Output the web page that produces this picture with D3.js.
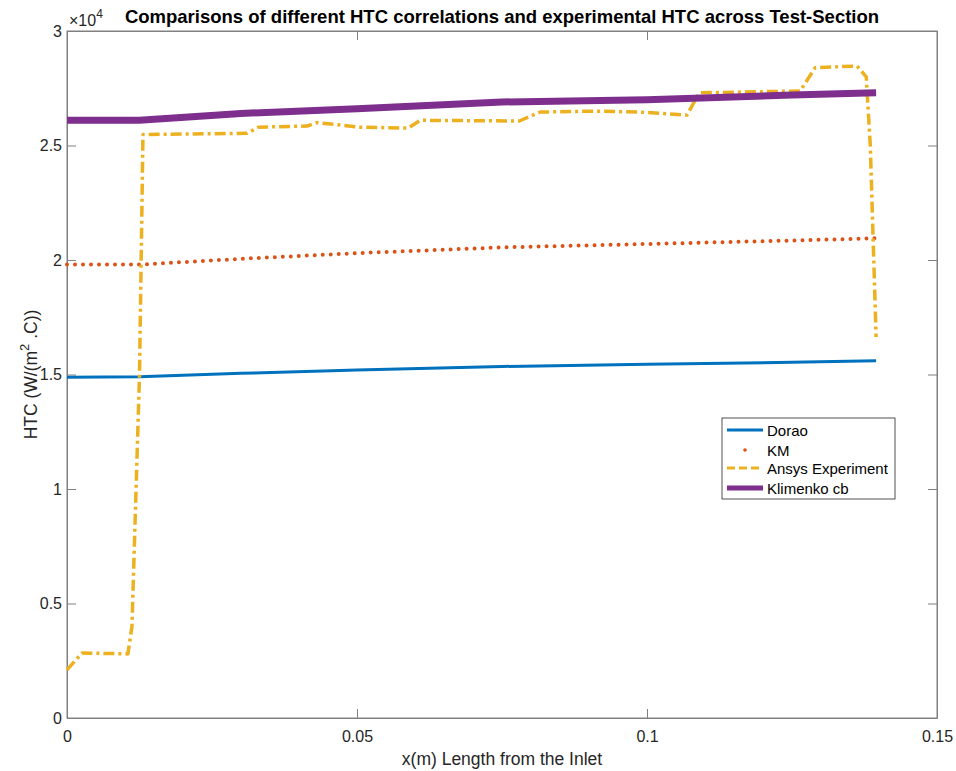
<!DOCTYPE html>
<html lang="en">
<head>
	<meta charset="UTF-8">
	<title>HTC comparison</title>
	<style>
		body { margin: 0; background: #fff; }
		text { font-family: "Liberation Sans", Arial, Helvetica, sans-serif; }
	</style>
</head>
<body>
	<svg width="956" height="771"></svg>
	<script src="https://d3js.org/d3.v7.min.js"></script>
	<script>
		// values in units of 1e4 W/(m^2.C)
		var doraoX = [0, 0.0125, 0.03, 0.05, 0.075, 0.1, 0.125, 0.1395];
		var doraoY = [1.488, 1.49, 1.505, 1.52, 1.535, 1.545, 1.553, 1.56];

		var kmX = [0, 0.0125, 0.03, 0.05, 0.075, 0.1, 0.125, 0.1395];
		var kmY = [1.98, 1.98, 2.005, 2.03, 2.055, 2.07, 2.085, 2.095];

		var ansysX = [0, 0.0026, 0.0105, 0.0112, 0.0125, 0.0131, 0.031, 0.033, 0.0414, 0.0431, 0.047, 0.0505, 0.0588, 0.0609,
			0.078, 0.0816, 0.0907, 0.0988, 0.1069, 0.109, 0.1264, 0.129, 0.1362, 0.1378, 0.1385, 0.1395];
		var ansysY = [0.21, 0.284, 0.28, 0.40, 1.5, 2.548, 2.553, 2.58, 2.585, 2.6, 2.59, 2.58, 2.576, 2.61,
			2.607, 2.646, 2.65, 2.646, 2.633, 2.73, 2.738, 2.84, 2.847, 2.8, 2.5, 1.664];

		var klimX = [0, 0.0125, 0.03, 0.05, 0.075, 0.1, 0.125, 0.1395];
		var klimY = [2.61, 2.61, 2.64, 2.66, 2.69, 2.70, 2.72, 2.73];

		var xTicks = [0, 0.05, 0.1, 0.15];
		var yTicks = [0, 0.5, 1, 1.5, 2, 2.5, 3];

		var svg = d3.select("svg");
		var pL = 67, pT = 31, pR = 937, pB = 718;

		var x = d3.scaleLinear().domain([0, 0.15]).range([pL, pR]);
		var y = d3.scaleLinear().domain([0, 3]).range([pB, pT]);

		var axisColor = "#262626";
		var tickLen = 9;

		// axes (matlab style, ticks inside on all four sides)
		svg.append("g").attr("transform", "translate(0," + pB + ")")
			.call(d3.axisBottom(x).tickValues(xTicks).tickFormat(d3.format("")).tickSizeInner(-tickLen).tickSizeOuter(0).tickPadding(13))
			.call(function (g) { g.selectAll("text").attr("font-size", 16).attr("fill", axisColor); });
		svg.append("g").attr("transform", "translate(0," + pT + ")")
			.call(d3.axisTop(x).tickValues(xTicks).tickFormat("").tickSizeInner(-tickLen).tickSizeOuter(0));
		svg.append("g").attr("transform", "translate(" + pL + ",0)")
			.call(d3.axisLeft(y).tickValues(yTicks).tickFormat(d3.format("")).tickSizeInner(-tickLen).tickSizeOuter(0).tickPadding(5))
			.call(function (g) { g.selectAll("text").attr("font-size", 16).attr("fill", axisColor); });
		svg.append("g").attr("transform", "translate(" + pR + ",0)")
			.call(d3.axisRight(y).tickValues(yTicks).tickFormat("").tickSizeInner(-tickLen).tickSizeOuter(0));
		svg.selectAll(".domain").attr("stroke", "#808080");
		svg.selectAll(".tick line").attr("stroke", "#808080");

		// frame
		svg.append("rect").attr("x", pL).attr("y", pT)
			.attr("width", pR - pL).attr("height", pB - pT)
			.attr("fill", "none").attr("stroke", "#808080").attr("stroke-width", 1);

		var line = d3.line().x(function (d) { return x(d[0]); }).y(function (d) { return y(d[1]); });
		function pairs(xs, ys) { return xs.map(function (v, i) { return [v, ys[i]]; }); }

		var series = [
			{ name: "Dorao", data: pairs(doraoX, doraoY), color: "#0072BD", width: 3, dash: null, cap: "butt" },
			{ name: "KM", data: pairs(kmX, kmY), color: "#D95319", width: 4, dash: "0,8", cap: "round" },
			{ name: "Ansys Experiment", data: pairs(ansysX, ansysY), color: "#EDB120", width: 3.5, dash: "11,4,3,4", cap: "butt" },
			{ name: "Klimenko cb", data: pairs(klimX, klimY), color: "#7E2F8E", width: 7, dash: null, cap: "butt" }
		];

		series.forEach(function (s) {
			svg.append("path").datum(s.data)
				.attr("d", line)
				.attr("fill", "none")
				.attr("stroke", s.color)
				.attr("stroke-width", s.width)
				.attr("stroke-dasharray", s.dash)
				.attr("stroke-linecap", s.cap)
				.attr("stroke-linejoin", "round");
		});

		// legend
		var lg = svg.append("g").attr("transform", "translate(722,418)");
		lg.append("rect").attr("width", 173).attr("height", 81)
			.attr("fill", "#fff").attr("stroke", "#262626").attr("stroke-width", 0.8);
		var rowY = [12, 32, 50, 70];
		series.forEach(function (s, i) {
			if (s.name === "KM") {
				lg.append("circle").attr("cx", 23).attr("cy", rowY[i]).attr("r", 1.8).attr("fill", s.color);
			} else {
				lg.append("line").attr("x1", 5).attr("x2", 41).attr("y1", rowY[i]).attr("y2", rowY[i])
					.attr("stroke", s.color).attr("stroke-width", s.name === "Klimenko cb" ? 5 : 3)
					.attr("stroke-dasharray", s.name === "Ansys Experiment" ? "8,4" : null);
			}
			lg.append("text").attr("x", 45).attr("y", rowY[i] + 5.5)
				.attr("font-size", 15).attr("fill", "#000").text(s.name);
		});

		// title and exponent
		svg.append("text").attr("x", (pL + pR) / 2).attr("y", 23)
			.attr("text-anchor", "middle").attr("font-size", 18.5).attr("font-weight", "bold")
			.attr("fill", "#000")
			.text("Comparisons of different HTC correlations and experimental HTC across Test-Section");
		var ex = svg.append("text").attr("x", 69).attr("y", 26).attr("font-size", 16).attr("fill", axisColor);
		ex.append("tspan").text("\u00d710");
		ex.append("tspan").attr("dy", -8).attr("font-size", 12).text("4");

		// axis labels
		svg.append("text").attr("x", (pL + pR) / 2).attr("y", 765)
			.attr("text-anchor", "middle").attr("font-size", 17.5).attr("fill", axisColor)
			.text("x(m) Length from the Inlet");
		var yl = svg.append("text").attr("transform", "translate(37," + ((pT + pB) / 2) + ") rotate(-90)")
			.attr("text-anchor", "middle").attr("font-size", 17.5).attr("fill", axisColor);
		yl.append("tspan").text("HTC (W/(m");
		yl.append("tspan").attr("dy", -8).attr("font-size", 13).text("2");
		yl.append("tspan").attr("dy", 8).text(" .C))");
	</script>
</body>
</html>
